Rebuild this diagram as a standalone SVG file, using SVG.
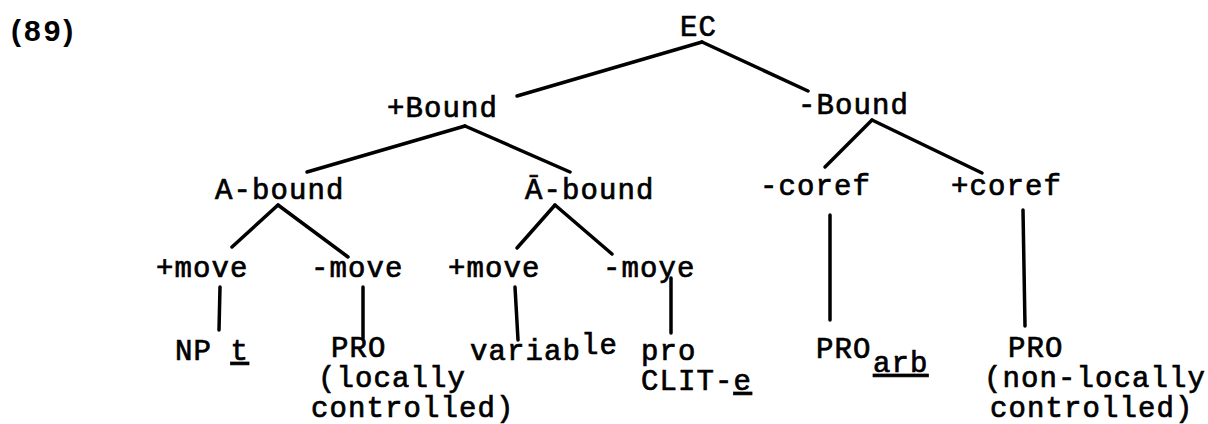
<svg xmlns="http://www.w3.org/2000/svg" width="1208" height="424" viewBox="0 0 1208 424">
<style>
.t{font-family:"Liberation Mono","DejaVu Sans Mono",monospace;font-size:29px;letter-spacing:1.1px;fill:#000;stroke:#000;stroke-width:0.7px}
.n{font-family:"Liberation Sans",Arial,sans-serif;font-size:30px;font-weight:bold;letter-spacing:3px;fill:#000}
.u{text-decoration:underline}
.c line{stroke:#000;stroke-width:3.5;stroke-linecap:round}
</style>
<rect width="1208" height="424" fill="#fff"/>
<text class="n" x="11" y="41">(89)</text>
<g class="c" id="connectors">
<line x1="702" y1="42" x2="517" y2="96"/>
<line x1="702" y1="42" x2="808" y2="91"/>
<line x1="465" y1="126" x2="307" y2="172"/>
<line x1="465" y1="126" x2="570" y2="172"/>
<line x1="872" y1="120" x2="825" y2="167"/>
<line x1="872" y1="120" x2="982" y2="173"/>
<line x1="278" y1="205" x2="232" y2="247"/>
<line x1="278" y1="205" x2="348" y2="257"/>
<line x1="555" y1="205" x2="517" y2="248"/>
<line x1="555" y1="205" x2="612" y2="254"/>
<line x1="220" y1="287" x2="219" y2="330"/>
<line x1="363" y1="287" x2="363" y2="338"/>
<line x1="515" y1="287" x2="518" y2="340"/>
<line x1="671" y1="278" x2="671" y2="333"/>
<line x1="830" y1="215" x2="830" y2="320"/>
<line x1="1023" y1="210" x2="1025" y2="326"/>
</g>
<g id="ec"><text class="t" x="680" y="36">EC</text></g>
<g id="plus-bound"><text class="t" x="387" y="117">+Bound</text></g>
<g id="minus-bound"><text class="t" x="798" y="114">-Bound</text></g>
<g id="a-bound"><text class="t" x="215" y="199">A-bound</text></g>
<g id="abar-bound"><text class="t" x="525" y="199">Ā-bound</text></g>
<g id="minus-coref"><text class="t" x="760" y="195">-coref</text></g>
<g id="plus-coref"><text class="t" x="951" y="195">+coref</text></g>
<g id="a-plus-move"><text class="t" x="156" y="277">+move</text></g>
<g id="a-minus-move"><text class="t" x="311" y="277">-move</text></g>
<g id="abar-plus-move"><text class="t" x="448" y="277">+move</text></g>
<g id="abar-minus-move"><text class="t" x="603" y="277">-moye</text></g>
<g id="np-t"><text class="t" x="175" y="360">NP <tspan class="u">t</tspan></text></g>
<g id="pro-local"><text class="t" x="331" y="357">PRO</text><text class="t" x="318" y="387">(locally</text><text class="t" x="311" y="417">controlled)</text></g>
<g id="variable"><text class="t" x="470" y="360">variab<tspan dy="-6">le</tspan></text></g>
<g id="pro-clit"><text class="t" x="641" y="360">pro</text><text class="t" x="641" y="390">CLIT-<tspan class="u">e</tspan></text></g>
<g id="pro-arb"><text class="t" x="816" y="358">PRO<tspan x="873" y="372" class="u">arb</tspan></text></g>
<g id="pro-nonlocal"><text class="t" x="1008" y="357">PRO</text><text class="t" x="984" y="387">(non-locally</text><text class="t" x="990" y="417">controlled)</text></g>
</svg>
